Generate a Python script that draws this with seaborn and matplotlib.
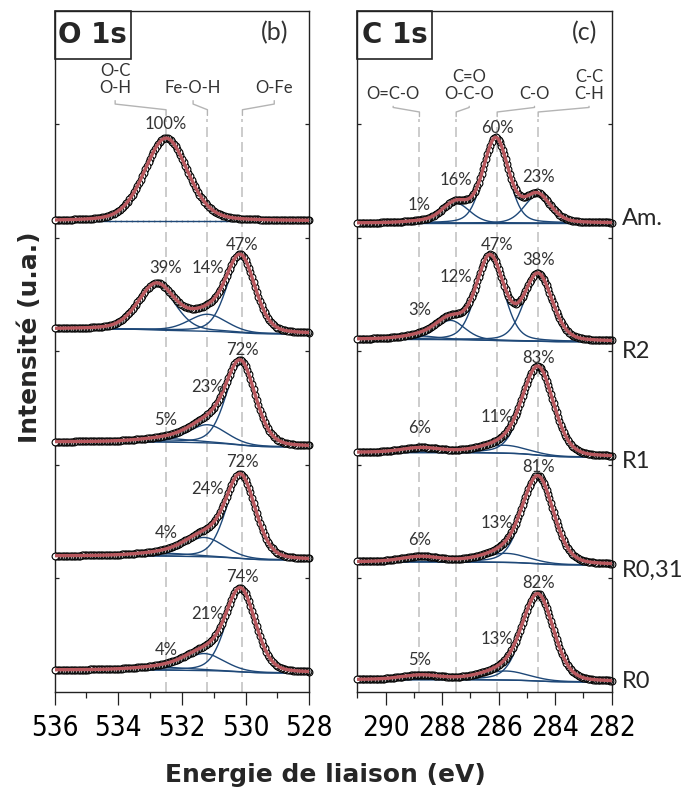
# ----------------------------------------------------------
# XPS O 1s / C 1s stacked spectra with fitted components
# ----------------------------------------------------------
import numpy as np
import seaborn as sns
import matplotlib.pyplot as plt
from matplotlib.patches import Rectangle
from matplotlib.ticker import MultipleLocator

# ----------------------------------------------------------
# data (peak parameters)
# ----------------------------------------------------------
samples = ['Am.', 'R2', 'R1', 'R0,31', 'R0']

# O 1s
o_lines = [532.5, 531.2, 530.1]
o_line_labels = ['O-C\nO-H', 'Fe-O-H', 'O-Fe']
o_centers = [[532.5], [532.8, 531.2, 530.15], [532.4, 531.2, 530.15],
             [532.5, 531.3, 530.15], [532.5, 531.3, 530.15]]
o_fwhm = [[1.6], [1.35, 1.4, 1.07], [2.0, 1.4, 1.1],
          [2.0, 1.45, 1.1], [2.0, 1.45, 1.1]]
o_height = [[0.73], [0.40, 0.15, 0.65], [0.03, 0.16, 0.71],
            [0.025, 0.17, 0.71], [0.025, 0.15, 0.71]]
o_pct = [['100%'], ['39%', '14%', '47%'], ['5%', '23%', '72%'],
         ['4%', '24%', '72%'], ['4%', '21%', '74%']]
o_which = [[0], [0, 1, 2], [0, 1, 2], [0, 1, 2], [0, 1, 2]]
o_base = [4.15, 3.154, 2.159, 1.163, 0.167]
o_step = [0.0, 0.044, 0.044, 0.035, 0.026]

# C 1s
c_lines = [288.8, 287.5, 286.05, 284.6]
c_line_labels = ['O=C-O', 'C=O\nO-C-O', 'C-O', 'C-C\nC-H']
c_centers = [[288.8, 287.5, 286.1, 284.63], [288.7, 287.7, 286.3, 284.6],
             [288.75, 285.8, 284.6], [288.75, 285.75, 284.6],
             [288.75, 285.75, 284.6]]
c_fwhm = [[1.3, 1.15, 1.05, 1.1], [1.5, 1.2, 1.15, 1.18],
          [1.6, 1.9, 1.3], [1.6, 1.9, 1.3], [1.6, 1.9, 1.3]]
c_height = [[0.01, 0.176, 0.74, 0.245], [0.03, 0.17, 0.73, 0.58],
            [0.04, 0.07, 0.76], [0.045, 0.08, 0.745], [0.038, 0.08, 0.74]]
c_pct = [['1%', '16%', '60%', '23%'], ['3%', '12%', '47%', '38%'],
         ['6%', '11%', '83%'], ['6%', '13%', '81%'], ['5%', '13%', '82%']]
c_which = [[0, 1, 2, 3], [0, 1, 2, 3], [0, 2, 3], [0, 2, 3], [0, 2, 3]]
c_base = [4.13, 3.086, 2.07, 1.119, 0.088]
c_step = [0.0, 0.02, 0.04, 0.027, 0.02]

# label heights (layout)
o_pct_y = [[5.0], [3.736, 3.736, 3.938], [2.396, 2.687, 3.013],
           [1.401, 1.789, 2.026], [0.370, 0.687, 1.013]]
c_pct_y = [[4.291, 4.511, 4.969, 4.537], [3.366, 3.656, 3.938, 3.806],
           [2.326, 2.423, 2.943], [1.339, 1.489, 1.982], [0.282, 0.467, 0.960]]
sample_y = [4.176, 3.004, 2.035, 1.075, 0.088]

FIT = '#b9585e'
COMP = '#1e4878'
GREY = '#333333'


# ----------------------------------------------------------
# functions
# ----------------------------------------------------------
def pvoigt(x, c, w, h, eta=0.25):
    u = ((x - c) / w) ** 2
    return h * ((1 - eta) * np.exp(-4 * np.log(2) * u) + eta / (1 + 4 * u))


def shirley(x, peaks, base, step):
    cum = np.concatenate([[0], np.cumsum((peaks[1:] + peaks[:-1]) / 2 * np.diff(x))])
    return base + step * cum / cum[-1]


def draw_panel(ax, lo, hi, dstep, centers, fwhm, height, pct, which, base, step,
               lines, pct_y):
    x = np.arange(lo, hi + 1e-9, 0.02)
    xd = np.arange(lo, hi + 1e-9, dstep)
    for i in range(len(centers)):
        comps = [pvoigt(x, c, w, h) for c, w, h in zip(centers[i], fwhm[i], height[i])]
        total = np.sum(comps, axis=0)
        bg = shirley(x, total, base[i], step[i])
        sns.lineplot(x=x, y=bg, ax=ax, color=COMP, linewidth=1.0, sort=False, zorder=2)
        for comp in comps:
            sns.lineplot(x=x, y=comp + bg, ax=ax, color=COMP, linewidth=1.0,
                         sort=False, zorder=2)
        yd = np.interp(xd, x, total + bg)
        sns.scatterplot(x=xd, y=yd, ax=ax, s=24, color='white', edgecolor='black',
                        linewidth=0.8, zorder=3, clip_on=False)
        sns.lineplot(x=x, y=total + bg, ax=ax, color=FIT, linewidth=2.4,
                     sort=False, zorder=4)
        for k, lab in enumerate(pct[i]):
            ax.text(lines[which[i][k]], pct_y[i][k], lab, ha='center', va='center',
                    fontsize=12, color=GREY, zorder=5)
    for xl in lines:
        ax.plot([xl, xl], [0, 5.05], ls=(0, (6, 3)), color='#c4c4c4', lw=1.2, zorder=1)


def setup_axes(ax, lo, hi, ticks):
    ax.set_xlim(hi, lo)
    ax.set_ylim(0, 6)
    ax.set_xticks(ticks)
    ax.xaxis.set_minor_locator(MultipleLocator(1))
    ax.set_yticks([1, 2, 3, 4, 5])
    ax.tick_params(axis='x', which='major', direction='out', length=9, width=0.9,
                   labelsize=20, pad=7, colors='#222222')
    ax.tick_params(axis='x', which='minor', direction='out', length=4.5, width=0.9,
                   colors='#222222')
    ax.tick_params(axis='y', direction='in', length=3, width=0.9, left=True,
                   right=True, labelleft=False, colors='#222222')
    for lab in ax.get_xticklabels():
        lab.set_family(['DejaVu Sans'])
        lab.set_stretch('condensed')
        lab.set_color('black')
    for sp in ax.spines.values():
        sp.set_color('#222222')
        sp.set_linewidth(1.0)
    ax.set_xlabel('')
    ax.set_ylabel('')


def leader(ax, xt, xl, yt, ytxt, y1, y2, y3, label):
    ax.text(xt, ytxt, label, ha='center', va='bottom', fontsize=12, color=GREY,
            linespacing=1.05)
    ax.plot([xt, xt, xl, xl], [yt, y1, y2, y3], color='#b4b4b4', lw=1.0, zorder=1)


# ----------------------------------------------------------
# main
# ----------------------------------------------------------
sns.set_style('ticks')
plt.rcParams['font.family'] = ['Lato', 'DejaVu Sans']

fig = plt.figure(figsize=(6.86, 8.02), dpi=100)
ax_o = fig.add_axes([0.0797, 0.1372, 0.3711, 0.8491])
ax_c = fig.add_axes([0.5208, 0.1372, 0.3708, 0.8491])

draw_panel(ax_o, 528, 536, 0.05, o_centers, o_fwhm, o_height, o_pct, o_which,
           o_base, o_step, o_lines, o_pct_y)
draw_panel(ax_c, 282, 291, 0.05, c_centers, c_fwhm, c_height, c_pct, c_which,
           c_base, c_step, c_lines, c_pct_y)
ax_o.plot([534.3, 530.2], [o_base[0], o_base[0]], ls=(0, (1, 3)), color='black',
          lw=1.0, zorder=1)

setup_axes(ax_o, 528, 536, [536, 534, 532, 530, 528])
setup_axes(ax_c, 282, 291, [290, 288, 286, 284, 282])

# bond labels with leader lines
o_text_x = [534.1, 531.65, 529.1]
for xt, xl, lab in zip(o_text_x, o_lines, o_line_labels):
    leader(ax_o, xt, xl, 5.21, 5.25, 5.18, 5.13, 5.08, lab)
c_text_x = [289.73, 287.04, 284.73, 282.8]
for xt, xl, lab in zip(c_text_x, c_lines, c_line_labels):
    leader(ax_c, xt, xl, 5.16, 5.20, 5.15, 5.11, 5.07, lab)

# panel titles
for ax, name, tag, w, tx in [(ax_o, 'O 1s', '(b)', 0.300, 0.865),
                             (ax_c, 'C 1s', '(c)', 0.295, 0.895)]:
    ax.add_patch(Rectangle((0, 0.9295), w, 0.0705, transform=ax.transAxes,
                           fill=False, lw=1.2, edgecolor='#222222', clip_on=False))
    ax.text(w / 2, 0.965, name, transform=ax.transAxes, ha='center', va='center',
            fontsize=20, fontweight='bold', family='DejaVu Sans')
    ax.text(tx, 0.968, tag, transform=ax.transAxes, ha='center', va='center',
            fontsize=18, color=GREY)

# sample names on the right
for name, y in zip(samples, sample_y):
    ax_c.text(1.04, y, name, transform=ax_c.get_yaxis_transform(), ha='left',
              va='center', fontsize=17)

fig.text(0.474, 1 - 775 / 802, 'Energie de liaison (eV)', ha='center', va='center',
         fontsize=18, fontweight='bold', family='DejaVu Sans')
fig.text(0.044, 1 - 337 / 802, 'Intensité (u.a.)', ha='center', va='center',
         rotation=90, fontsize=18, fontweight='bold', family='DejaVu Sans')

plt.savefig('out.png', dpi=100)
plt.close()
